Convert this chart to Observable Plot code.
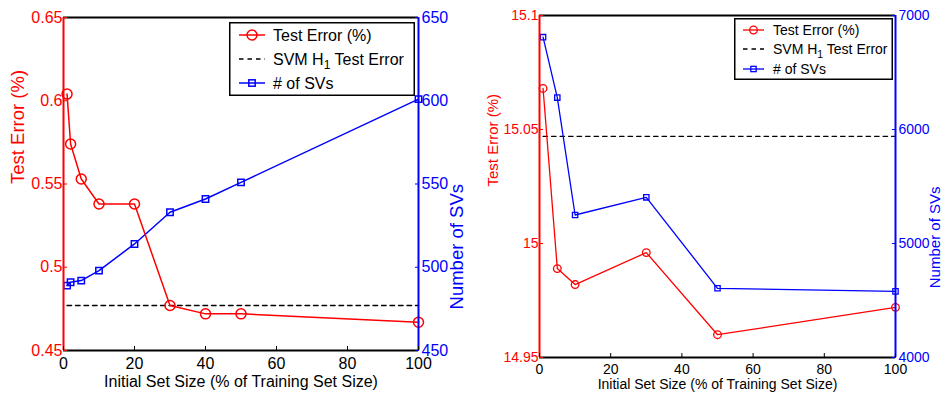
<!DOCTYPE html>
<html><head><meta charset="utf-8">
<script src="https://cdn.jsdelivr.net/npm/d3@7"></script>
<script src="https://cdn.jsdelivr.net/npm/@observablehq/plot@0.6"></script>
<style>
body{margin:0;background:#fff;}
#wrap{display:flex;width:942px;height:397px;}
.panel{position:relative;width:471px;height:397px;}
.panel svg.leg{position:absolute;overflow:visible;}
</style>
</head><body>
<div id="wrap"><div class="panel" id="p1"></div><div class="panel" id="p2"></div></div>
<script>
// ---- data ----
const leftSize = [1, 2, 5, 10, 20, 30, 40, 50, 100];
const leftError = [0.604, 0.574, 0.553, 0.538, 0.538, 0.477, 0.472, 0.472, 0.467];
const leftSVs = [489, 491, 492, 498, 514, 533, 541, 551, 601];
const leftSvmError = 0.477;
const leftSvmSpan = [1, 100];

const rightSize = [1, 5, 10, 30, 50, 100];
const rightError = [15.068, 14.989, 14.982, 14.996, 14.960, 14.972];
const rightSVs = [6810, 6280, 5250, 5405, 4607, 4580];
const rightSvmError = 15.047;
const rightSvmSpan = [1, 100];

const xTicks = [0, 20, 40, 60, 80, 100];
const leftErrTicks = [0.45, 0.5, 0.55, 0.6, 0.65];
const leftSVTicks = [450, 500, 550, 600, 650];
const rightErrTicks = [14.95, 15, 15.05, 15.1];
const rightSVTicks = [4000, 5000, 6000, 7000];

const xTitle = "Initial Set Size (% of Training Set Size)";
const yLeftTitle = "Test Error (%)";
const yRightTitle = "Number of SVs";
const legendLabels = ["Test Error (%)", "SVM H", "# of SVs"];

const RED = "#ff0000", BLUE = "#0000ff";
const FONT = "'Liberation Sans', Arial, Helvetica, sans-serif";

function panel(el, c) {
  const lo = c.errTicks[0], hi = c.errTicks[c.errTicks.length - 1];
  const slo = c.svTicks[0], shi = c.svTicks[c.svTicks.length - 1];
  const toErr = d3.scaleLinear([slo, shi], [lo, hi]);
  const data = c.sizes.map((s, i) => ({s, e: c.err[i], v: toErr(c.svs[i])}));
  const svm = c.svmSpan.map(x => ({x, y: c.svm}));
  const fs = c.fontSize;
  const plot = Plot.plot({
    width: 471, height: 397,
    marginLeft: c.m[0], marginRight: c.m[1], marginTop: c.m[2], marginBottom: c.m[3],
    style: {fontFamily: FONT, fontSize: fs + "px", background: "transparent", overflow: "visible"},
    x: {domain: [0, 100]},
    y: {domain: [lo, hi]},
    marks: [
      Plot.line(svm, {x: "x", y: "y", stroke: "#000", strokeWidth: c.sw, strokeDasharray: "4.5,4"}),
      Plot.line(data, {x: "s", y: "v", stroke: BLUE, strokeWidth: c.sw}),
      Plot.dot(data, {x: "s", y: "v", symbol: "square", r: c.sq, stroke: BLUE, strokeWidth: c.sw, fill: "none"}),
      Plot.line(data, {x: "s", y: "e", stroke: RED, strokeWidth: c.sw}),
      Plot.dot(data, {x: "s", y: "e", r: c.r, stroke: RED, strokeWidth: c.sw, fill: "none"}),
      // frame
      Plot.ruleY([lo, hi], {stroke: "#000", strokeWidth: 2}),
      Plot.ruleX([0], {stroke: RED, strokeWidth: 2}),
      Plot.ruleX([100], {stroke: BLUE, strokeWidth: 2}),
      // axes: labels
      Plot.axisX(xTicks, {anchor: "bottom", tickSize: 0, tickPadding: 7, label: null, fill: "#000", fontSize: fs, tickFormat: d => String(d)}),
      Plot.axisX(xTicks, {anchor: "bottom", tickSize: -4, tickPadding: 0, label: null, stroke: "#000", tickFormat: () => ""}),
      Plot.axisY(c.errTicks, {anchor: "left", tickSize: 0, tickPadding: 1, label: null, fill: RED, fontSize: fs, tickFormat: d => String(d)}),
      Plot.axisY(c.errTicks, {anchor: "left", tickSize: -4, label: null, stroke: RED, tickFormat: () => ""}),
      Plot.axisY(c.svTicks.map(toErr), {anchor: "right", tickSize: 0, tickPadding: 3, label: null, fill: BLUE, fontSize: fs, tickFormat: d => String(Math.round(toErr.invert(d)))}),
      Plot.axisY(c.svTicks.map(toErr), {anchor: "right", tickSize: -4, label: null, stroke: BLUE, tickFormat: () => ""}),
      // axis titles
      Plot.text([xTitle], {frameAnchor: "bottom", dy: c.xTitleDy, lineAnchor: "middle", fill: "#000", fontSize: fs}),
      Plot.text([yLeftTitle], {frameAnchor: "left", dx: c.yLDx, rotate: -90, lineAnchor: "middle", fill: RED, fontSize: c.yfs}),
      Plot.text([yRightTitle], {frameAnchor: "right", dx: c.yRDx, rotate: -90, lineAnchor: "middle", fill: BLUE, fontSize: c.yfs})
    ]
  });
  el.appendChild(plot);

  // legend overlay
  const L = c.leg;
  const ns = "http://www.w3.org/2000/svg";
  const svg = document.createElementNS(ns, "svg");
  svg.setAttribute("class", "leg");
  svg.setAttribute("width", L.w); svg.setAttribute("height", L.h);
  svg.style.left = L.x + "px"; svg.style.top = L.y + "px";
  const rows = L.rows;
  const mx = (L.s0 + L.s1) / 2;
  let html = `<rect x="0.75" y="0.75" width="${L.w - 1.5}" height="${L.h - 1.5}" fill="#fff" stroke="#000" stroke-width="1.5"/>`;
  html += `<line x1="${L.s0}" x2="${L.s1}" y1="${rows[0]}" y2="${rows[0]}" stroke="${RED}" stroke-width="${c.sw}"/>`;
  html += `<circle cx="${mx}" cy="${rows[0]}" r="${c.r}" fill="none" stroke="${RED}" stroke-width="${c.sw}"/>`;
  html += `<line x1="${L.s0}" x2="${L.s1}" y1="${rows[1]}" y2="${rows[1]}" stroke="#000" stroke-width="${c.sw}" stroke-dasharray="4.5,4"/>`;
  html += `<line x1="${L.s0}" x2="${L.s1}" y1="${rows[2]}" y2="${rows[2]}" stroke="${BLUE}" stroke-width="${c.sw}"/>`;
  const q = c.sq * 0.886;
  html += `<rect x="${mx - q}" y="${rows[2] - q}" width="${2 * q}" height="${2 * q}" fill="none" stroke="${BLUE}" stroke-width="${c.sw}"/>`;
  const ts = `font-family="${FONT.replace(/"/g, "'")}" font-size="${fs}" fill="#000" dominant-baseline="central"`;
  html += `<text x="${L.t}" y="${rows[0]}" ${ts}>${legendLabels[0]}</text>`;
  html += `<text x="${L.t}" y="${rows[1]}" ${ts}>${legendLabels[1]}<tspan font-size="${fs * 0.75}" dy="${fs * 0.35}">1</tspan><tspan dy="${-fs * 0.35}"> Test Error</tspan></text>`;
  html += `<text x="${L.t}" y="${rows[2]}" ${ts}>${legendLabels[2]}</text>`;
  svg.innerHTML = html;
  el.appendChild(svg);
}

panel(document.getElementById("p1"), {
  sizes: leftSize, err: leftError, svs: leftSVs, svm: leftSvmError, svmSpan: leftSvmSpan,
  errTicks: leftErrTicks, svTicks: leftSVTicks,
  m: [63, 53, 17, 47], fontSize: 16, yfs: 18.5, r: 5, sq: 3.6, sw: 1.5,
  xTitleDy: 31.5, yLDx: -45, yRDx: 39,
  leg: {x: 229, y: 22, w: 186, h: 74, rows: [13, 37, 61], s0: 10, s1: 36, t: 44}
});
panel(document.getElementById("p2"), {
  sizes: rightSize, err: rightError, svs: rightSVs, svm: rightSvmError, svmSpan: rightSvmSpan,
  errTicks: rightErrTicks, svTicks: rightSVTicks,
  m: [68, 47, 15, 40], fontSize: 14, yfs: 15, r: 3.8, sq: 3, sw: 1.3,
  xTitleDy: 27, yLDx: -46, yRDx: 39.5,
  leg: {x: 263, y: 18, w: 159, h: 62, rows: [12, 31, 51], s0: 9, s1: 30, t: 39}
});
</script>
</body></html>
